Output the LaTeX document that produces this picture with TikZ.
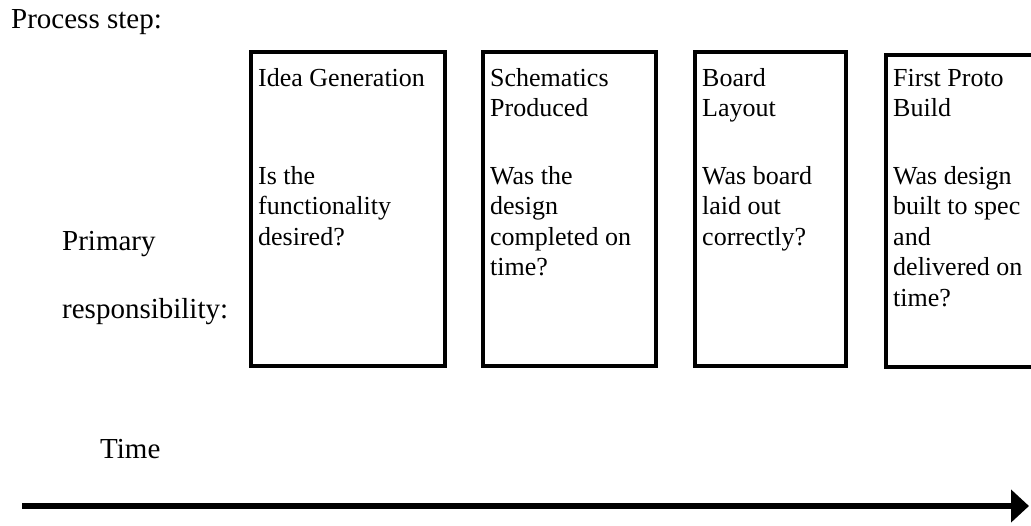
\documentclass[tikz,border=0pt]{standalone}
\usepackage{fontspec}
\setmainfont{Liberation Serif}
\usetikzlibrary{arrows.meta}
\begin{document}
\begin{tikzpicture}[x=1pt,y=-1pt,
  stepbox/.style={draw,line width=4.5pt},
  boxtext/.style={anchor=base west,align=left,inner sep=0pt,font=\fontsize{26}{30.5}\selectfont},
  lbl/.style={anchor=base west,inner sep=0pt,font=\fontsize{29}{33}\selectfont},
  timearrow/.style={line width=5.5pt,-{Triangle[length=18pt,width=32pt]}}]
\useasboundingbox (0,0) rectangle (1031,525);
% boxes
\draw[stepbox] (251,52) rectangle (445,366);
\draw[stepbox] (483,52) rectangle (656,366);
\draw[stepbox] (695,52) rectangle (846,366);
\draw[stepbox] (1045,55) -| (886,367) -- (1045,367);
% left labels
\node[lbl] (ps) at (11,28) {Process step:};
\node[lbl] (pr) at (62,250) {Primary};
\node[lbl] (rs) at (62,318) {responsibility:};
\node[lbl] (tm) at (100,458) {Time};
% box texts (anchor = baseline of last line)
\node[boxtext] (t1) at (258,86) {Idea Generation};
\node[boxtext] (q1) at (258,245) {Is the\\functionality\\desired?};
\node[boxtext] (t2) at (490,116.5) {Schematics\\Produced};
\node[boxtext] (q2) at (490,275.5) {Was the\\design\\completed on\\time?};
\node[boxtext] (t3) at (702,116.5) {Board\\Layout};
\node[boxtext] (q3) at (702,245) {Was board\\laid out\\correctly?};
\node[boxtext] (t4) at (893,116.5) {First Proto\\Build};
\node[boxtext] (q4) at (893,306) {Was design\\built to spec\\and\\delivered on\\time?};
% time arrow
\coordinate (a0) at (22,506);
\coordinate (a1) at (1029,506);
\draw[timearrow] (a0) -- (a1);
\end{tikzpicture}
\end{document}
